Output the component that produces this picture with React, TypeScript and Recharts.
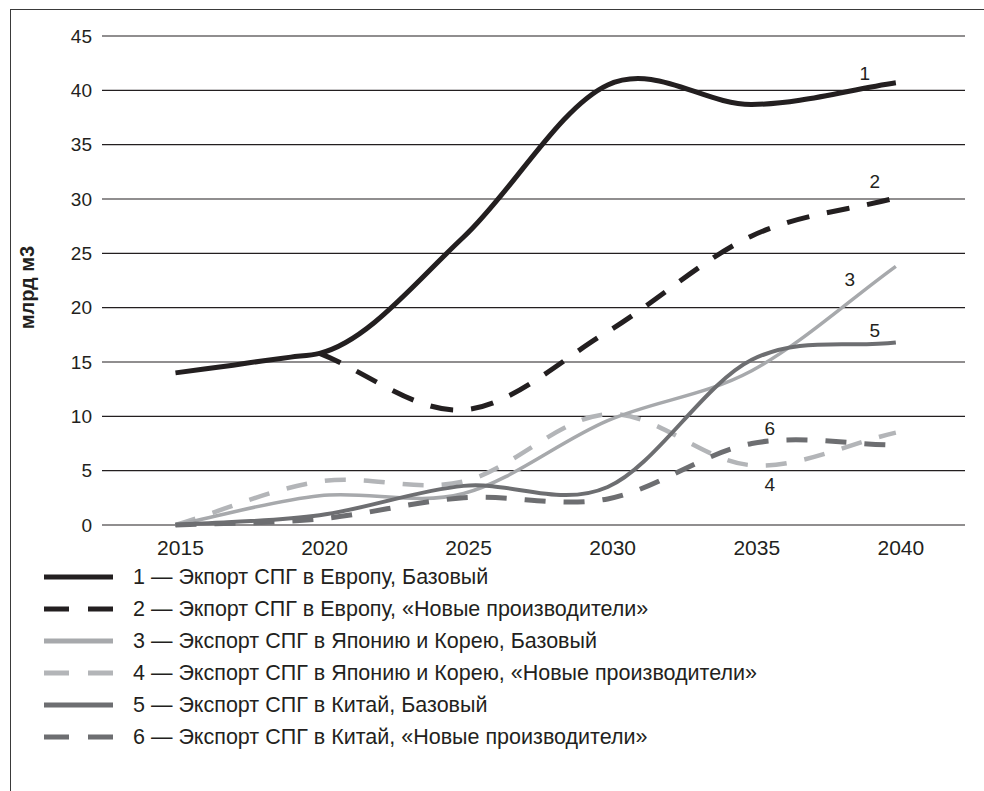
import React from "react";
import {
  LineChart,
  Line,
  XAxis,
  YAxis,
  CartesianGrid,
  LabelList,
} from "recharts";

// values (the first series is read yearly up to 2020)
const years = [2015, 2016, 2017, 2018, 2019, 2020, 2025, 2030, 2035, 2040];
const europeBase = [14.0, 14.35, 14.7, 15.1, 15.45, 15.8, 26.5, 40.5, 38.7, 40.7];
const europeNew = [null, null, null, null, null, 15.8, 10.6, 17.8, 26.6, 30.1];
const japanBase = [0, null, null, null, null, 2.7, 2.9, 9.6, 14.2, 23.8];
const japanNew = [0, null, null, null, null, 4.0, 4.0, 10.2, 5.5, 8.5];
const chinaBase = [0, null, null, null, null, 0.9, 3.6, 3.5, 15.2, 16.8];
const chinaNew = [0, null, null, null, null, 0.55, 2.5, 2.4, 7.5, 7.35];

const yTicks = [0, 5, 10, 15, 20, 25, 30, 35, 40, 45];
const xTicks = [2015, 2020, 2025, 2030, 2035, 2040];

const legendNames = [
  "1 — Экпорт СПГ в Европу, Базовый",
  "2 — Экпорт СПГ в Европу, «Новые производители»",
  "3 — Экспорт СПГ в Японию и Корею, Базовый",
  "4 — Экспорт СПГ в Японию и Корею, «Новые производители»",
  "5 — Экспорт СПГ в Китай, Базовый",
  "6 — Экспорт СПГ в Китай, «Новые производители»",
];

const data = years.map((year, i) => ({
  year,
  s1: europeBase[i],
  s2: europeNew[i],
  s3: japanBase[i],
  s4: japanNew[i],
  s5: chinaBase[i],
  s6: chinaNew[i],
}));

const BLACK = "#231f20";
const LIGHT = "#a7a9ac";
const DARK = "#6d6e71";
const FONT = "'Liberation Sans', Arial, sans-serif";

// series styles; tag = number written next to the line, at point `at`
const series = [
  { key: "s4", color: "#b3b5b8", width: 4.5, dash: "21 18", tag: "4", at: 8, dx: 18, dy: 26 },
  { key: "s3", color: LIGHT, width: 3.5, dash: undefined, tag: "3", at: 9, dx: -46, dy: 20 },
  { key: "s6", color: DARK, width: 5, dash: "21 18", tag: "6", at: 8, dx: 18, dy: -9 },
  { key: "s5", color: DARK, width: 4, dash: undefined, tag: "5", at: 9, dx: -21, dy: -5 },
  { key: "s2", color: BLACK, width: 5, dash: "23 18", tag: "2", at: 9, dx: -21, dy: -10 },
  { key: "s1", color: BLACK, width: 5, dash: undefined, tag: "1", at: 9, dx: -31, dy: -3 },
];

const legendOrder = ["s1", "s2", "s3", "s4", "s5", "s6"];

// Excel-like smoothed line: cubic Hermite through the points,
// tangents from the neighbouring chords weighted by spacing
function excelSmooth(context: any) {
  let pts: number[][] = [];
  return {
    areaStart() {},
    areaEnd() {},
    lineStart() {
      pts = [];
    },
    point(x: number, y: number) {
      pts.push([+x, +y]);
    },
    lineEnd() {
      const n = pts.length;
      if (!n) return;
      context.moveTo(pts[0][0], pts[0][1]);
      if (n === 1) return;
      const slope = (a: number[], b: number[]) => (b[1] - a[1]) / (b[0] - a[0]);
      const m = pts.map((p, i) => {
        if (i === 0) return slope(p, pts[1]);
        if (i === n - 1) return slope(pts[n - 2], p);
        const h0 = p[0] - pts[i - 1][0];
        const h1 = pts[i + 1][0] - p[0];
        const d0 = slope(pts[i - 1], p);
        const d1 = slope(p, pts[i + 1]);
        return (h1 * d0 + h0 * d1) / (h0 + h1);
      });
      for (let i = 0; i < n - 1; i++) {
        const [x0, y0] = pts[i];
        const [x1, y1] = pts[i + 1];
        const h = (x1 - x0) / 3;
        context.bezierCurveTo(x0 + h, y0 + m[i] * h, x1 - h, y1 - m[i + 1] * h, x1, y1);
      }
    },
  };
}

export default function App() {
  return (
    <div
      style={{
        position: "absolute",
        left: 0,
        top: 0,
        width: 984,
        height: 791,
        background: "#fff",
        overflow: "hidden",
        fontFamily: FONT,
      }}
    >
      {/* frame: top and left edge only */}
      <div
        style={{
          position: "absolute",
          left: 10,
          top: 9,
          right: -2,
          bottom: -2,
          borderTop: "1.5px solid #3a3a3a",
          borderLeft: "1.5px solid #3a3a3a",
        }}
      />

      <div style={{ position: "absolute", left: 0, top: 0 }}>
        <LineChart
          width={984}
          height={576}
          data={data}
          margin={{ top: 36, right: 19, left: 0, bottom: 0 }}
        >
          <CartesianGrid vertical={false} stroke={BLACK} strokeWidth={1.2} />
          <XAxis
            dataKey="year"
            type="number"
            domain={[2012.45, 2042.4]}
            ticks={xTicks}
            height={51}
            axisLine={false}
            tickLine={false}
            tickSize={0}
            tickMargin={15}
            tick={{ fill: BLACK, fontSize: 21, fontFamily: FONT, dx: 5 }}
          />
          <YAxis
            domain={[0, 45]}
            ticks={yTicks}
            width={102}
            axisLine={false}
            tickLine={false}
            tickSize={0}
            tickMargin={10}
            tick={{ fill: BLACK, fontSize: 19, fontFamily: FONT }}
            label={{
              content: ({ viewBox }: any) => {
                const cx = viewBox.x + 27;
                const cy = viewBox.y + viewBox.height / 2 + 7;
                return (
                  <text
                    x={cx}
                    y={cy}
                    transform={`rotate(-90, ${cx}, ${cy})`}
                    textAnchor="middle"
                    dominantBaseline="central"
                    fontFamily={FONT}
                    fontWeight="bold"
                    fontSize={20}
                    fill={BLACK}
                  >
                    млрд м3
                  </text>
                );
              },
            }}
          />
          {series.map((s) => (
            <Line
              key={s.key}
              dataKey={s.key}
              type={excelSmooth as any}
              stroke={s.color}
              strokeWidth={s.width}
              strokeDasharray={s.dash}
              connectNulls
              dot={false}
              activeDot={false}
              isAnimationActive={false}
            >
              <LabelList
                content={(p: any) =>
                  p.index === s.at ? (
                    <text
                      x={p.x + s.dx}
                      y={p.y + s.dy}
                      textAnchor="middle"
                      fontFamily={FONT}
                      fontSize={19}
                      fill={BLACK}
                    >
                      {s.tag}
                    </text>
                  ) : null
                }
              />
            </Line>
          ))}
        </LineChart>
      </div>

      {/* legend */}
      <div style={{ position: "absolute", left: 44, top: 561 }}>
        {legendOrder.map((key, i) => {
          const s = series.find((x) => x.key === key)!;
          return (
            <div
              key={key}
              style={{ display: "flex", alignItems: "center", height: 32 }}
            >
              <svg width={69} height={12}>
                <line
                  x1={0}
                  y1={6}
                  x2={69}
                  y2={6}
                  stroke={s.color}
                  strokeWidth={5}
                  strokeDasharray={s.dash ? "25 19" : undefined}
                />
              </svg>
              <span
                style={{
                  marginLeft: 20,
                  fontSize: 21.5,
                  color: BLACK,
                  whiteSpace: "nowrap",
                }}
              >
                {legendNames[i]}
              </span>
            </div>
          );
        })}
      </div>
    </div>
  );
}
